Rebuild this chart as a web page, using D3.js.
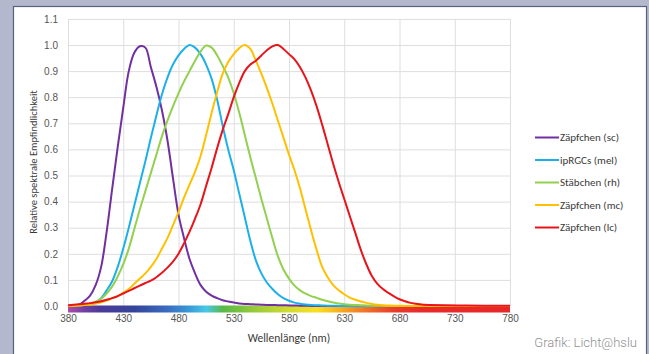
<!DOCTYPE html>
<html lang="de">
<head>
<meta charset="UTF-8">
<script src="https://cdnjs.cloudflare.com/ajax/libs/d3/7.8.5/d3.min.js"></script>
<title>Relative spektrale Empfindlichkeit</title>
<style>
    html, body { margin: 0; padding: 0; background: #b3b8cc; }
    svg { display: block; font-family: Calibri, Carlito, Lato, 'Open Sans', sans-serif; }
    .tick text { fill: #555555; font-size: 10px; }
    .grid line { stroke: #dedede; stroke-width: 1px; }
</style>
</head>
<body>
<svg width="649" height="354"></svg>
<script>
// wavelengths (nm) shared by all curves
const wavelengths = [380,385,390,395,400,405,410,415,420,425,430,435,440,445,450,455,460,465,470,475,
    480,485,490,495,500,505,510,515,520,525,530,535,540,545,550,555,560,565,570,575,
    580,585,590,595,600,605,610,615,620,625,630,635,640,645,650,655,660,665,670,675,
    680,685,690,695,700,740,780]

const sc = [0,0.002,0.005,0.02,0.04,0.08,0.15,0.285,0.45,0.61,
    0.76,0.9,0.97,0.995,0.99,0.915,0.84,0.75,0.635,0.49,
    0.35,0.26,0.18,0.125,0.08,0.055,0.04,0.03,0.022,0.017,
    0.013,0.01,0.008,0.007,0.006,0.005,0.004,0.004,0.003,0.003,
    0.002,0.002,0.001,0.001,0,0,0,0,0,0,
    0,0,0,0,0,0,0,0,0,0,
    0,0,0,0,0,0,0]
const mel = [0,0,0.002,0.005,0.008,0.015,0.03,0.06,0.095,0.15,
    0.22,0.3,0.385,0.47,0.555,0.645,0.73,0.81,0.875,0.925,
    0.96,0.985,1.0,0.99,0.965,0.925,0.87,0.79,0.69,0.6,
    0.52,0.43,0.34,0.25,0.175,0.125,0.09,0.065,0.045,0.03,
    0.02,0.013,0.009,0.006,0.004,0.003,0.002,0.001,0.001,0,
    0,0,0,0,0,0,0,0,0,0,
    0,0,0,0,0,0,0]
const rh = [0,0.001,0.003,0.006,0.01,0.017,0.028,0.048,0.075,0.113,
    0.16,0.22,0.295,0.37,0.44,0.51,0.58,0.65,0.71,0.765,
    0.815,0.86,0.9,0.94,0.975,0.998,0.99,0.96,0.92,0.875,
    0.815,0.74,0.655,0.57,0.49,0.41,0.335,0.26,0.19,0.14,
    0.105,0.078,0.06,0.047,0.038,0.031,0.024,0.018,0.013,0.01,
    0.007,0.005,0.004,0.003,0.002,0.001,0.001,0,0,0,
    0,0,0,0,0,0,0]
const mc = [0,0.001,0.002,0.004,0.006,0.009,0.014,0.021,0.03,0.038,
    0.05,0.065,0.085,0.105,0.125,0.15,0.18,0.22,0.26,0.31,
    0.36,0.415,0.465,0.515,0.575,0.655,0.74,0.82,0.89,0.935,
    0.965,0.988,1.0,0.985,0.94,0.89,0.835,0.775,0.71,0.645,
    0.58,0.52,0.45,0.37,0.29,0.215,0.15,0.11,0.08,0.06,
    0.045,0.032,0.024,0.017,0.012,0.008,0.005,0.003,0.002,0.001,
    0.001,0,0,0,0,0,0]
const lc = [0.003,0.005,0.007,0.009,0.011,0.014,0.018,0.024,0.03,0.038,
    0.048,0.058,0.068,0.078,0.088,0.097,0.11,0.127,0.147,0.17,
    0.2,0.24,0.285,0.335,0.39,0.46,0.53,0.605,0.675,0.735,
    0.8,0.855,0.9,0.925,0.94,0.96,0.98,0.995,1.0,0.985,
    0.965,0.945,0.915,0.875,0.825,0.765,0.695,0.62,0.545,0.475,
    0.41,0.345,0.28,0.215,0.16,0.115,0.085,0.065,0.05,0.037,
    0.026,0.018,0.012,0.009,0.006,0.002,0.001]

const seriesNames = ['Zäpfchen (sc)', 'ipRGCs (mel)', 'Stäbchen (rh)', 'Zäpfchen (mc)', 'Zäpfchen (lc)']
const seriesValues = [sc, mel, rh, mc, lc]
const seriesColors = ['#7030a0', '#1cb0ea', '#92d050', '#ffc000', '#e8141c']

const xTicks = [380, 430, 480, 530, 580, 630, 680, 730, 780]
const yTicks = [0, 0.1, 0.2, 0.3, 0.4, 0.5, 0.6, 0.7, 0.8, 0.9, 1.0, 1.1]

// colour strip under the axis
const spectrumNm = [380, 395, 410, 440, 470, 490, 505, 520, 545, 580, 605, 625, 650, 675, 700, 780]
const spectrumColors = ['#b048b0', '#7040a0', '#4a3a98', '#34449a', '#3a6cc0', '#3a9ad8', '#48c8e8', '#58b848',
    '#90c83c', '#d0dc30', '#f8e020', '#f8b020', '#f07028', '#e83c2c', '#e82a2a', '#e82828']

const svg = d3.select('svg')

// white panel
svg.append('rect')
    .attr('x', 13.5).attr('y', 6.5)
    .attr('width', 633).attr('height', 360)
    .attr('fill', '#ffffff')
    .attr('stroke', '#56627f')
    .attr('stroke-width', 1.2)

const xScale = d3.scaleLinear().domain([380, 780]).range([68, 510])
const yScale = d3.scaleLinear().domain([0, 1.1]).range([306, 18.9])

// gridlines
svg.append('g')
    .attr('class', 'grid')
    .attr('transform', 'translate(0,306)')
    .call(d3.axisBottom(xScale).tickValues(xTicks).tickSize(-(306 - 18.9)).tickFormat(''))
    .call(g => g.select('.domain').remove())
svg.append('g')
    .attr('class', 'grid')
    .attr('transform', 'translate(68,0)')
    .call(d3.axisLeft(yScale).tickValues(yTicks).tickSize(-(510 - 68)).tickFormat(''))
    .call(g => g.select('.domain').remove())

// tick labels
svg.append('g')
    .attr('transform', 'translate(0,312)')
    .call(d3.axisBottom(xScale).tickValues(xTicks).tickSize(0).tickPadding(3).tickFormat(d3.format('d')))
    .call(g => g.select('.domain').remove())
svg.append('g')
    .attr('transform', 'translate(59,0)')
    .call(d3.axisLeft(yScale).tickValues(yTicks).tickSize(0).tickPadding(1).tickFormat(d3.format('.1f')))
    .call(g => g.select('.domain').remove())

// spectrum strip
const grad = svg.append('defs').append('linearGradient')
    .attr('id', 'spectrum')
    .attr('gradientUnits', 'userSpaceOnUse')
    .attr('x1', xScale(380)).attr('x2', xScale(780))
    .attr('y1', 0).attr('y2', 0)
grad.selectAll('stop')
    .data(spectrumNm)
    .enter()
    .append('stop')
    .attr('offset', d => (d - 380) / 400)
    .attr('stop-color', (d, i) => spectrumColors[i])
svg.append('rect')
    .attr('x', xScale(380)).attr('y', 305.5)
    .attr('width', xScale(780) - xScale(380)).attr('height', 7)
    .attr('fill', 'url(#spectrum)')

// curves
const line = d3.line()
    .x((d, i) => xScale(wavelengths[i]))
    .y(d => yScale(Math.max(0, d)))
    .curve(d3.curveCatmullRom.alpha(0.5))

svg.selectAll('.curve')
    .data(seriesValues)
    .enter()
    .append('path')
    .attr('class', 'curve')
    .attr('d', d => line(d))
    .attr('fill', 'none')
    .attr('stroke', (d, i) => seriesColors[i])
    .attr('stroke-width', 2)
    .attr('stroke-linejoin', 'round')

// axis titles
svg.append('text')
    .attr('x', 289).attr('y', 338)
    .attr('dy', '0.35em')
    .attr('text-anchor', 'middle')
    .attr('font-size', 11.5)
    .attr('fill', '#3a3a3a')
    .text('Wellenlänge (nm)')

svg.append('text')
    .attr('transform', 'translate(33,162) rotate(-90)')
    .attr('dy', '0.35em')
    .attr('text-anchor', 'middle')
    .attr('font-size', 10.5)
    .attr('fill', '#3a3a3a')
    .text('Relative spektrale Empfindlichkeit')

// legend
const legend = svg.selectAll('.legend')
    .data(seriesNames)
    .enter()
    .append('g')
    .attr('class', 'legend')
    .attr('transform', (d, i) => 'translate(535,' + (137.5 + i * 22.5) + ')')
legend.append('line')
    .attr('x1', 0).attr('x2', 24)
    .attr('stroke', (d, i) => seriesColors[i])
    .attr('stroke-width', 2)
legend.append('text')
    .attr('x', 25)
    .attr('dy', '0.35em')
    .attr('font-size', 11)
    .attr('fill', '#3a3a3a')
    .text(d => d)

// credit
svg.append('text')
    .attr('x', 637).attr('y', 342)
    .attr('dy', '0.35em')
    .attr('text-anchor', 'end')
    .attr('font-size', 13)
    .attr('font-weight', 300)
    .attr('fill', '#8f8f8f')
    .style('font-family', "Roboto, 'Open Sans', sans-serif")
    .text('Grafik: Licht@hslu')
</script>
</body>
</html>
